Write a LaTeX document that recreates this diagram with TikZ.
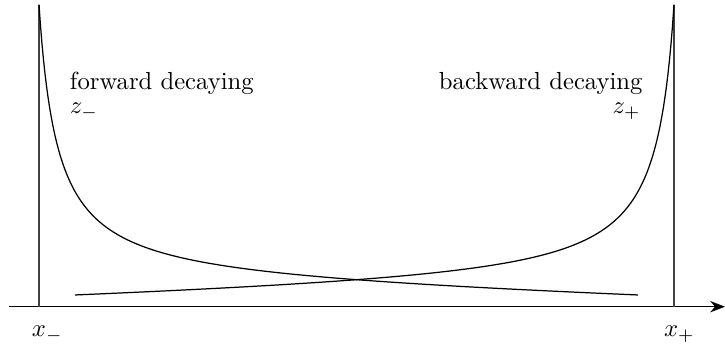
\documentclass[tikz,border=0pt]{standalone}
\usetikzlibrary{arrows.meta}
\begin{document}
\begin{tikzpicture}[x=0.4055pt,y=-0.4055pt,
  curve/.style={line width=0.5pt},
  vline/.style={line width=0.45pt,black!75},
  lab/.style={inner sep=0pt,anchor=base west}]
\useasboundingbox (0,0) rectangle (725,347);
% axis
\coordinate (axL) at (9,306.7);
\coordinate (axR) at (725,306.7);
\draw[line width=0.5pt,-{Stealth[length=6pt,width=4.6pt]}] (axL) -- (axR);
% vertical lines
\coordinate (vlt) at (39,5);
\coordinate (vlb) at (39,306.7);
\coordinate (vrt) at (674,5);
\coordinate (vrb) at (674,306.7);
\draw[vline] (vlt) -- (vlb);
\draw[vline] (vrt) -- (vrb);
% forward decaying curve
\draw[curve] plot[domain=0:599,samples=400,variable=\t]
  ({39+\t},{306.7-(5203/(\t+18.5)+20.8-0.02922*\t)});
% backward decaying curve
\draw[curve] plot[domain=0:599,samples=400,variable=\t]
  ({674-\t},{306.7-(5203/(\t+18.5)+20.8-0.02922*\t)});
% labels
\node[lab] (fwd) at (69.5,90) {forward decaying};
\node[lab] (zm) at (69.5,114) {$z_-$};
\node[inner sep=0pt,anchor=base east] (bwd) at (643,90) {backward decaying};
\node[inner sep=0pt,anchor=base east] (zp) at (641,114) {$z_+$};
\node[lab] (xm) at (31.5,337) {$x_-$};
\node[lab] (xp) at (663.5,337) {$x_+$};
\end{tikzpicture}
\end{document}
